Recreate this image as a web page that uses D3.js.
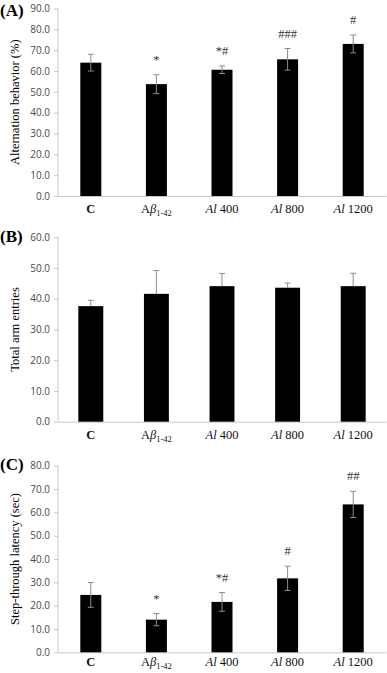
<!DOCTYPE html>
<html>
<head>
<meta charset="utf-8">
<script src="https://cdn.jsdelivr.net/npm/d3@7"></script>
<style>
  body { margin: 0; background: #fff; }
  svg { display: block; }
</style>
</head>
<body>
<div id="chart"></div>
<script>
// groups on the x axis
var groups = ["C", "Abeta", "Al400", "Al800", "Al1200"];

// (A) Y-maze alternation behavior (%)
var alternation     = [64.0, 53.7, 60.6, 65.6, 73.0];
var alternation_err = [4.0, 4.5, 1.8, 5.2, 4.3];
var alternation_sig = ["", "*", "*#", "###", "#"];
var alternation_ticks = [0, 10, 20, 30, 40, 50, 60, 70, 80, 90];

// (B) total arm entries
var entries     = [37.6, 41.6, 44.1, 43.6, 44.1];
var entries_err = [1.9, 7.6, 4.1, 1.5, 4.2];
var entries_sig = ["", "", "", "", ""];
var entries_ticks = [0, 10, 20, 30, 40, 50, 60];

// (C) passive avoidance step-through latency (sec)
var latency     = [24.6, 14.0, 21.6, 31.7, 63.4];
var latency_err = [5.3, 2.6, 4.0, 5.2, 5.6];
var latency_sig = ["", "*", "*#", "#", "##"];
var latency_ticks = [0, 10, 20, 30, 40, 50, 60, 70, 80];

var width = 387, height = 673;
var x0 = 58, x1 = 386;

var svg = d3.select("#chart")
    .append("svg")
    .attr("width", width)
    .attr("height", height);

var serif = "'Liberation Serif', 'Times New Roman', serif";
var sans  = "'Open Sans', 'Liberation Sans', sans-serif";

function draw_panel(p) {
    var g = svg.append("g");

    var x = d3.scaleBand()
        .domain(groups)
        .range([x0, x1])
        .paddingInner(p.pad)
        .paddingOuter(p.pad / 2);

    var y = d3.scaleLinear()
        .domain([0, d3.max(p.ticks)])
        .range([p.bottom, p.top]);

    // y axis
    var yAxis = g.append("g")
        .attr("transform", "translate(" + x0 + ",0)")
        .call(d3.axisLeft(y)
              .tickValues(p.ticks)
              .tickSize(4)
              .tickPadding(4)
              .tickFormat(d3.format(".1f")));
    yAxis.selectAll("path, line").attr("stroke", "#c8c8c8");
    yAxis.select(".domain").attr("d", "M0," + p.bottom + "V" + p.top);
    yAxis.selectAll("text")
        .attr("fill", "#4a4a4a")
        .style("font-family", sans)
        .style("font-size", "10px");

    // x axis baseline
    var xAxis = g.append("g")
        .attr("transform", "translate(0," + p.bottom + ")")
        .call(d3.axisBottom(x).tickSize(0).tickFormat(""));
    xAxis.select(".domain").attr("stroke", "#c8c8c8");

    // bars
    var data = groups.map((d, i) => ({g: d, v: p.values[i], e: p.err[i], s: p.sig[i]}));

    g.selectAll(".bar")
        .data(data)
        .enter()
        .append("rect")
        .attr("class", "bar")
        .attr("x", d => x(d.g))
        .attr("y", d => y(d.v))
        .attr("width", x.bandwidth())
        .attr("height", d => p.bottom - y(d.v))
        .attr("fill", "#000");

    // error bars
    var cx = d => x(d.g) + x.bandwidth() / 2;
    var lo = d => p.lower ? y(d.v - d.e) : y(d.v);
    var eb = g.selectAll(".err")
        .data(data)
        .enter()
        .append("g")
        .attr("class", "err")
        .attr("stroke", "#8c8c8c")
        .attr("stroke-width", 1);
    eb.append("line")
        .attr("x1", cx).attr("x2", cx)
        .attr("y1", d => y(d.v + d.e))
        .attr("y2", lo);
    eb.append("line")
        .attr("x1", d => cx(d) - 3).attr("x2", d => cx(d) + 3)
        .attr("y1", d => y(d.v + d.e))
        .attr("y2", d => y(d.v + d.e));
    if (p.lower) {
        eb.append("line")
            .attr("x1", d => cx(d) - 3).attr("x2", d => cx(d) + 3)
            .attr("y1", lo)
            .attr("y2", lo);
    }

    // significance marks
    g.selectAll(".sig")
        .data(data)
        .enter()
        .append("text")
        .attr("class", "sig")
        .attr("x", cx)
        .attr("y", d => y(d.v + d.e) - 11)
        .attr("text-anchor", "middle")
        .attr("fill", "#333")
        .style("font-family", serif)
        .style("font-size", "12.5px")
        .text(d => d.s);

    // category labels
    var lab = g.selectAll(".lab")
        .data(groups)
        .enter()
        .append("text")
        .attr("class", "lab")
        .attr("x", d => x(d) + x.bandwidth() / 2)
        .attr("y", p.labelY)
        .attr("text-anchor", "middle")
        .attr("fill", "#111")
        .style("font-family", serif)
        .style("font-size", "12.5px");
    lab.each(function (d) {
        var t = d3.select(this);
        if (d == "C") {
            t.style("font-weight", "bold").text("C");
        } else if (d == "Abeta") {
            t.append("tspan").text("A");
            t.append("tspan").style("font-style", "italic").text("\u03b2");
            t.append("tspan").attr("dy", 3).style("font-size", "8.5px").text("1-42");
        } else {
            t.append("tspan").style("font-style", "italic").text("Al");
            t.append("tspan").text(" " + d.slice(2));
        }
    });

    // y title
    g.append("text")
        .attr("transform", "translate(" + 19 + "," + ((p.top + p.bottom) / 2) + ") rotate(-90)")
        .attr("text-anchor", "middle")
        .style("font-family", serif)
        .style("font-size", "12.5px")
        .text(p.title);

    // panel letter
    g.append("text")
        .attr("x", 0)
        .attr("y", p.letterY)
        .style("font-family", serif)
        .style("font-size", "17px")
        .style("font-weight", "bold")
        .text(p.letter);
}

draw_panel({letter: "(A)", letterY: 16, title: "Alternation behavior (%)",
            values: alternation, err: alternation_err, sig: alternation_sig,
            ticks: alternation_ticks, top: 8.5, bottom: 196, labelY: 213,
            pad: 0.68, lower: true});

draw_panel({letter: "(B)", letterY: 242, title: "Total arm entries",
            values: entries, err: entries_err, sig: entries_sig,
            ticks: entries_ticks, top: 237.3, bottom: 421.7, labelY: 439,
            pad: 0.62, lower: false});

draw_panel({letter: "(C)", letterY: 470, title: "Step-through latency (sec)",
            values: latency, err: latency_err, sig: latency_sig,
            ticks: latency_ticks, top: 465.7, bottom: 652.3, labelY: 666,
            pad: 0.68, lower: true});
</script>
</body>
</html>
